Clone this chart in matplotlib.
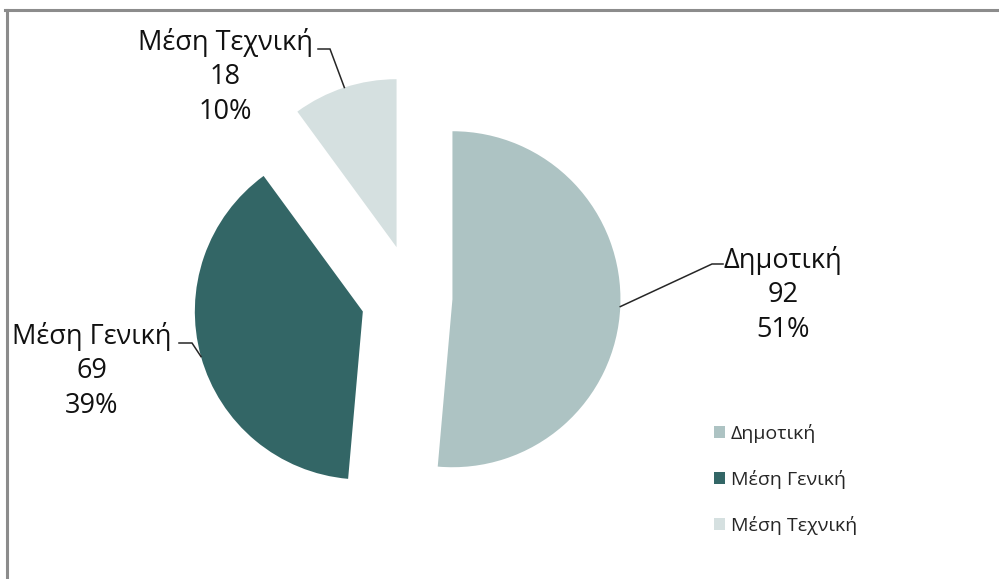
import matplotlib
matplotlib.use("Agg")
import matplotlib.pyplot as plt
from matplotlib.lines import Line2D
import numpy as np

plt.rcParams['font.family'] = ['Open Sans', 'DejaVu Sans']

# ---- data ----
categories = ["Δημοτική", "Μέση Γενική", "Μέση Τεχνική"]
values = [92, 69, 18]
colors = ["#adc3c3", "#336666", "#d5e0e0"]
explode = [0.235, 0.31, 0.315]

W, H = 999, 579
fig = plt.figure(figsize=(W / 100, H / 100), dpi=100)
ax = fig.add_axes([0, 0, 1, 1])

# pixel -> data mapping (layout only)
CX, CY, S = 413.0, 297.5, 168.0
def px(x, y):
    return ((x - CX) / S, (CY - y) / S)

wedges, _ = ax.pie(values, colors=colors, explode=explode, startangle=90,
                   counterclock=False, radius=1, center=(0, 0),
                   wedgeprops=dict(linewidth=0))
ax.set_xlim((0 - CX) / S, (W - CX) / S)
ax.set_ylim((CY - H) / S, CY / S)
ax.set_aspect('auto')
ax.axis('off')

total = sum(values)
text_color = "#111111"
# label layout: (text center px, elbow px, end px)
label_layout = [
    ((783, 295), (712, 264), (723, 264)),
    ((92, 371), (192, 343), (179, 343)),
    ((225, 77), (330, 49), (318, 49)),
]
for w, cat, val, (tc, elbow, end) in zip(wedges, categories, values, label_layout):
    mid = np.deg2rad((w.theta1 + w.theta2) / 2)
    cx, cy = w.center
    ax_pt = (cx + w.r * np.cos(mid), cy + w.r * np.sin(mid))
    e = px(*elbow)
    f = px(*end)
    ax.plot([ax_pt[0], e[0], f[0]], [ax_pt[1], e[1], f[1]],
            color="#262626", lw=1.1, solid_joinstyle='miter')
    pct = round(val / total * 100)
    t = px(*tc)
    ax.text(t[0], t[1], f"{cat}\n{val}\n{pct}%", ha='center', va='center',
            multialignment='center', fontsize=19.5, color=text_color,
            linespacing=1.33)

leg = ax.legend(wedges, categories, loc='upper left',
                bbox_to_anchor=(714 / W, 1 - 424 / H),
                frameon=False, fontsize=14, handlelength=0.55,
                handleheight=0.55, handletextpad=0.3, labelspacing=1.38,
                borderpad=0, borderaxespad=0)
for t in leg.get_texts():
    t.set_color("#262626")

# chart border (top and left)
fig.add_artist(Line2D([5 / W, 1], [1 - 10 / H, 1 - 10 / H], color="#8c8c8c",
                      lw=2.2, transform=fig.transFigure))
fig.add_artist(Line2D([7 / W, 7 / W], [0, 1 - 10 / H], color="#8c8c8c",
                      lw=2.2, transform=fig.transFigure))

fig.savefig("out.png", dpi=100)
